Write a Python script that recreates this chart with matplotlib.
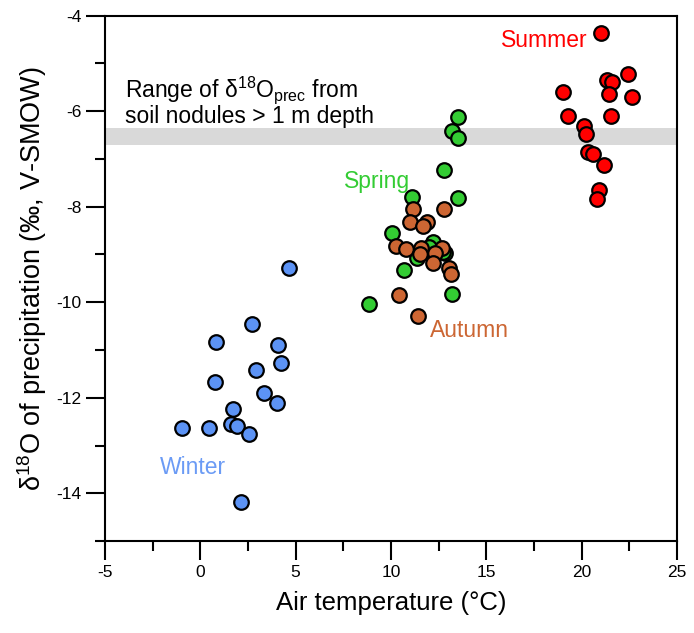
"""Seasonal d18O of precipitation vs air temperature, with soil-nodule range band."""
import matplotlib

matplotlib.use("Agg")
import matplotlib.pyplot as plt

plt.rcParams["font.family"] = ["Liberation Sans", "DejaVu Sans"]
plt.rcParams["mathtext.fontset"] = "custom"
plt.rcParams["mathtext.rm"] = "Liberation Sans"
plt.rcParams["mathtext.it"] = "Liberation Sans:italic"
plt.rcParams["axes.unicode_minus"] = False

# air temperature (degC) and d18O (permil) per season
winter_t = [2.69, 0.82, 4.06, 4.23, 2.93, 0.78, 3.34, 4.04, 1.71, -0.95, 0.44, 1.61, 1.91, 2.57, 2.13, 4.65]
winter_d = [-10.46, -10.83, -10.89, -11.28, -11.41, -11.66, -11.89, -12.12, -12.24, -12.63, -12.63, -12.56,
            -12.59, -12.75, -14.18, -9.28]

spring_t = [13.50, 13.20, 13.50, 12.79, 11.10, 13.51, 10.05, 12.18, 12.83, 11.34, 10.66, 8.83, 13.18, 12.01, 12.74]
spring_d = [-6.13, -6.42, -6.56, -7.24, -7.79, -7.81, -8.56, -8.73, -8.97, -9.08, -9.33, -10.04, -9.83, -8.84, -8.94]

autumn_t = [11.14, 12.76, 10.98, 11.91, 11.70, 10.26, 10.78, 11.57, 11.52, 12.66, 12.30, 12.22, 13.04, 13.15,
            10.42, 11.41]
autumn_d = [-8.05, -8.05, -8.33, -8.33, -8.40, -8.82, -8.89, -8.87, -8.99, -8.87, -8.97, -9.17, -9.28, -9.41,
            -9.85, -10.29]

summer_t = [21.02, 22.41, 21.32, 21.57, 19.02, 21.45, 22.65, 19.26, 21.55, 20.11, 20.22, 20.33, 20.60, 21.17,
            20.90, 20.81]
summer_d = [-4.36, -5.22, -5.35, -5.39, -5.60, -5.65, -5.71, -6.11, -6.11, -6.32, -6.48, -6.85, -6.90, -7.13,
            -7.65, -7.84]

band_lo, band_hi = -6.71, -6.35   # soil nodule d18O_prec range

x_ticks = [-5, 0, 5, 10, 15, 20, 25]
y_ticks = [-4, -6, -8, -10, -12, -14]

fig = plt.figure(figsize=(6.94, 6.33), dpi=100)
ax = fig.add_axes([0.1513, 0.1453, 0.8242, 0.8299])

ax.axhspan(band_lo, band_hi, color="#d9d9d9", lw=0, zorder=1)

mk = dict(s=110, edgecolors="black", linewidths=1.6, zorder=3)
ax.scatter(winter_t, winter_d, c="#5c93f5", **mk)
ax.scatter(spring_t, spring_d, c="#33cc33", **mk)
ax.scatter(autumn_t, autumn_d, c="#cd6633", **mk)
ax.scatter(summer_t, summer_d, c="#ff0000", **mk)

ax.text(18.02, -4.51, "Summer", color="#ff0000", fontsize=16.5, ha="center", va="center")
ax.text(9.26, -7.48, "Spring", color="#33cc33", fontsize=16.5, ha="center", va="center")
ax.text(14.14, -10.6, "Autumn", color="#cc6633", fontsize=16.5, ha="center", va="center")
ax.text(-0.39, -13.47, "Winter", color="#6b9bf5", fontsize=16.5, ha="center", va="center")

ax.text(-3.95, -5.70, r"Range of δ$^{18}$O$_{\mathrm{prec}}$ from", fontsize=16.5, va="baseline")
ax.text(-3.95, -6.25, "soil nodules > 1 m depth", fontsize=16.5, va="baseline")

ax.set_xlim(-5, 25)
ax.set_ylim(-15, -4)
ax.set_xticks(x_ticks)
ax.set_xticks([-2.5, 2.5, 7.5, 12.5, 17.5, 22.5], minor=True)
ax.set_yticks(y_ticks)
ax.set_yticks([-5, -7, -9, -11, -13, -15], minor=True)
ax.tick_params(which="major", direction="out", length=14, width=1.5, labelsize=12.5, pad=3)
ax.tick_params(which="minor", direction="out", length=7, width=1.5)
for sp in ax.spines.values():
    sp.set_linewidth(1.5)

ax.set_xlabel("Air temperature (°C)", fontsize=18.5, labelpad=8)
ax.set_ylabel(r"δ$^{18}$O of precipitation (‰, V-SMOW)", fontsize=19.5, labelpad=5)

fig.savefig("out.png", dpi=100)
plt.close(fig)
